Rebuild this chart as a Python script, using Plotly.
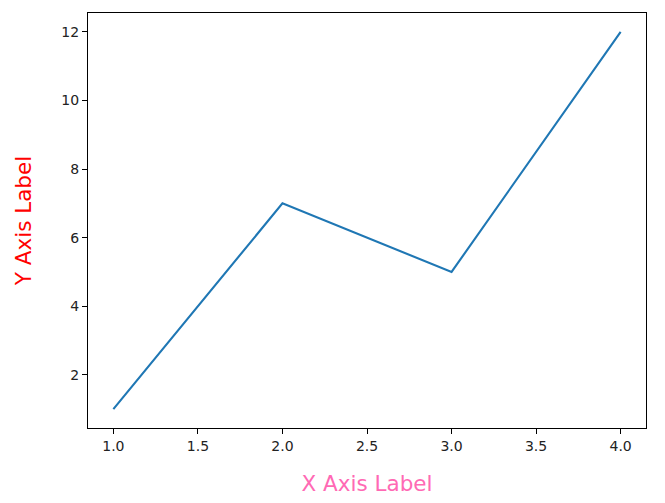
import plotly.graph_objects as go

x_vals = [1, 2, 3, 4]
y_vals = [1, 7, 5, 12]
x_ticks = [1.0, 1.5, 2.0, 2.5, 3.0, 3.5, 4.0]
x_tick_text = ["1.0", "1.5", "2.0", "2.5", "3.0", "3.5", "4.0"]
y_ticks = [2, 4, 6, 8, 10, 12]

fig = go.Figure()
fig.add_trace(go.Scatter(x=x_vals, y=y_vals, mode="lines",
                         line=dict(color="#1f77b4", width=2.1)))

font = "DejaVu Sans"
fig.update_layout(
    width=665, height=503,
    margin=dict(l=80, r=27, t=5, b=83),
    paper_bgcolor="white", plot_bgcolor="white",
    showlegend=False,
    font=dict(family=font, size=14, color="#222"),
    xaxis=dict(
        range=[0.85, 4.15], tickvals=x_ticks, ticktext=x_tick_text,
        showgrid=False, zeroline=False, showline=True, linecolor="black",
        linewidth=1, mirror=True, ticks="outside", ticklen=5, tickcolor="black",
        title=dict(text="X Axis Label", font=dict(size=21.5, color="#ff69b4", family=font), standoff=23),
    ),
    yaxis=dict(
        range=[0.45, 12.55], tickvals=y_ticks,
        showgrid=False, zeroline=False, showline=True, linecolor="black",
        linewidth=1, mirror=True, ticks="outside", ticklen=5, tickcolor="black",
        title=dict(text="Y Axis Label", font=dict(size=21.5, color="red", family=font), standoff=23),
    ),
)
fig.write_html("out.html")
